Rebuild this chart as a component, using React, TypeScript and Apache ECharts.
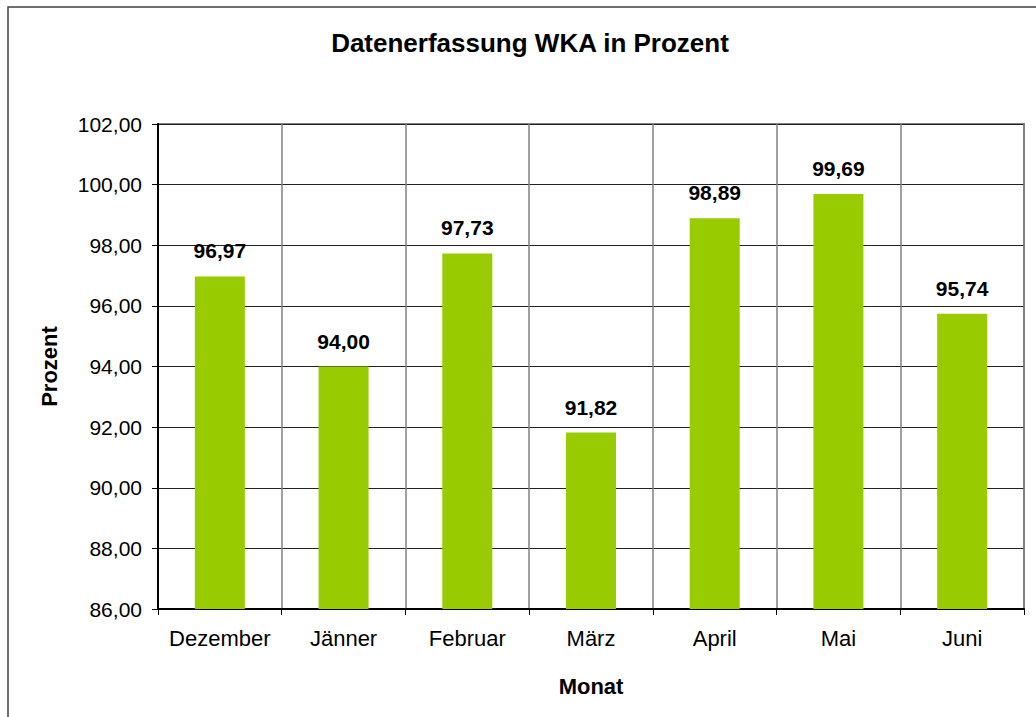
import React, { useEffect, useRef } from "react";
import * as echarts from "echarts";

const months = ["Dezember", "Jänner", "Februar", "März", "April", "Mai", "Juni"];
const values = [96.97, 94.0, 97.73, 91.82, 98.89, 99.69, 95.74];
const yMin = 86;
const yMax = 102;
const yStep = 2;
const titleText = "Datenerfassung WKA in Prozent";
const xName = "Monat";
const yName = "Prozent";

const FONT = 'Arial, "Liberation Sans", sans-serif';
const fmt = (v: number) => v.toFixed(2).replace(".", ",");

export default function App() {
  const ref = useRef<HTMLDivElement>(null);
  useEffect(() => {
    if (!ref.current) return;
    const chart = echarts.init(ref.current, null, { renderer: "svg" });
    chart.setOption({
      animation: false,
      backgroundColor: "#ffffff",
      textStyle: { fontFamily: FONT },
      graphic: [
        {
          type: "rect",
          shape: { x: 8, y: 7, width: 1100, height: 800 },
          style: { fill: "none", stroke: "#404040", lineWidth: 1.5 },
          silent: true,
        },
        {
          type: "text",
          x: 530,
          y: 43,
          style: {
            text: titleText,
            textAlign: "center",
            textVerticalAlign: "middle",
            fontFamily: FONT,
            fontSize: 26,
            fontWeight: "bold",
            fill: "#000",
          },
        },
      ],
      grid: {
        left: 158,
        top: 124,
        width: 866,
        height: 485,
        show: true,
        borderColor: "#808080",
        borderWidth: 2,
        backgroundColor: "transparent",
      },
      xAxis: {
        type: "category",
        data: months,
        boundaryGap: true,
        name: xName,
        nameLocation: "middle",
        nameGap: 66,
        nameTextStyle: { fontFamily: FONT, fontSize: 22, fontWeight: "bold", color: "#000" },
        axisLine: { show: true, lineStyle: { color: "#000", width: 2 } },
        axisTick: { show: true, interval: 0, alignWithLabel: false, inside: false, length: 6, lineStyle: { color: "#000" } },
        axisLabel: { interval: 0, fontFamily: FONT, fontSize: 22, color: "#000", margin: 18 },
        splitLine: { show: true, interval: 0, lineStyle: { color: "#808080", width: 1.5 } },
      },
      yAxis: {
        type: "value",
        min: yMin,
        max: yMax,
        interval: yStep,
        name: yName,
        nameLocation: "middle",
        nameGap: 98,
        nameRotate: 90,
        nameTextStyle: { fontFamily: FONT, fontSize: 22, fontWeight: "bold", color: "#000" },
        axisLine: { show: true, lineStyle: { color: "#000", width: 2 } },
        axisTick: { show: true, inside: false, length: 6, lineStyle: { color: "#000" } },
        axisLabel: { fontFamily: FONT, fontSize: 21, color: "#000", margin: 16, formatter: (v: number) => fmt(v) },
        splitLine: { show: true, lineStyle: { color: "#222", width: 1 } },
      },
      series: [
        {
          type: "bar",
          data: values,
          barWidth: 50,
          itemStyle: { color: "#99CC00" },
          label: {
            show: true,
            position: "top",
            distance: 15,
            fontFamily: FONT,
            fontSize: 21,
            fontWeight: "bold",
            color: "#000",
            formatter: (p: any) => fmt(p.value),
          },
        },
      ],
    });
    return () => chart.dispose();
  }, []);
  return (
    <div style={{ position: "fixed", left: 0, top: 0, width: 1036, height: 717, background: "#fff" }}>
      <div ref={ref} style={{ width: 1036, height: 717 }} />
    </div>
  );
}
